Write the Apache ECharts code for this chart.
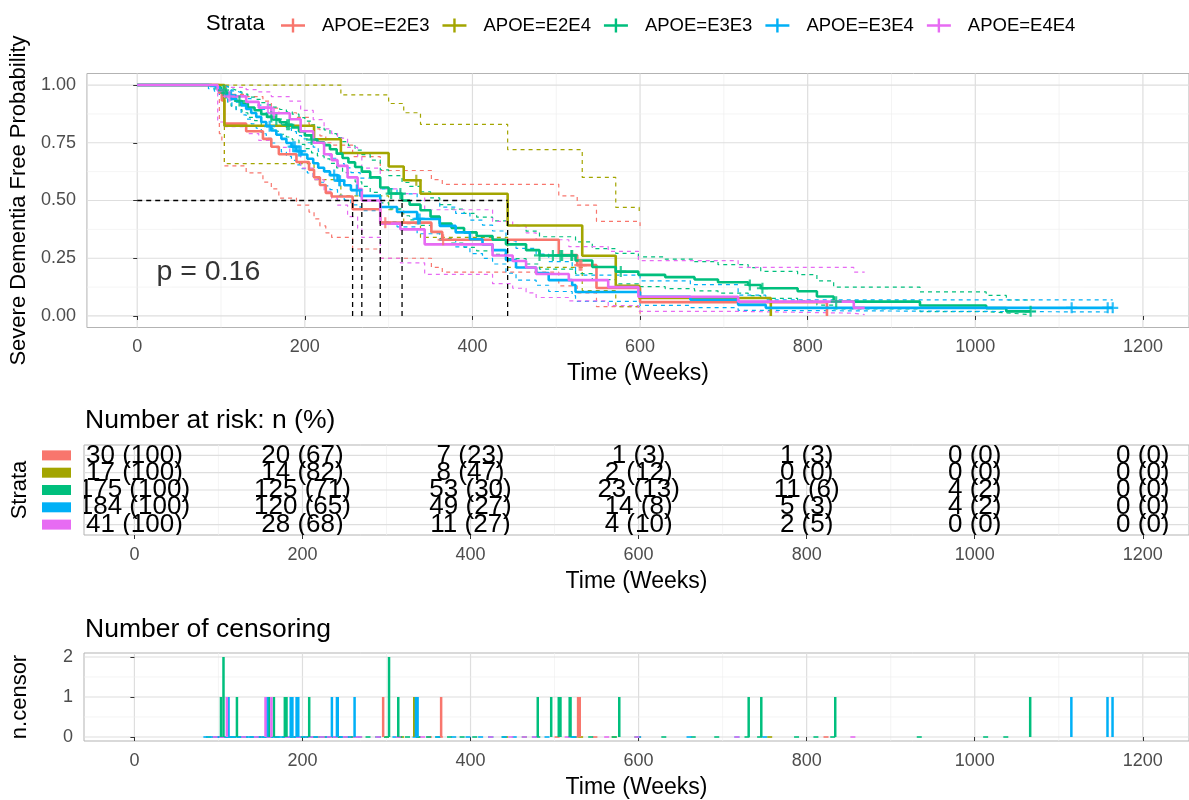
<!DOCTYPE html>
<html><head><meta charset="utf-8">
<script src="https://cdn.jsdelivr.net/npm/echarts@6/dist/echarts.min.js"></script>
<style>html,body{margin:0;padding:0;background:#fff}#c{width:1189px;height:800px}</style>
</head><body><div id="c"></div>
<script>
// ---------------- DATA ----------------
const strata = ['APOE=E2E3','APOE=E2E4','APOE=E3E3','APOE=E3E4','APOE=E4E4'];
const colors = ['#F8766D','#A3A500','#00BF7D','#00B0F6','#E76BF3'];

// Kaplan-Meier steps (time in weeks, survival, upper CI, lower CI)
const timeE2E3  = [0, 98, 101, 104, 130, 150, 160, 169, 190, 205, 211, 218, 225, 232, 257, 290, 351, 364, 503, 525, 548, 600, 823];
const survE2E3  = [1, 0.967, 0.933, 0.833, 0.800, 0.767, 0.733, 0.700, 0.667, 0.633, 0.600, 0.567, 0.533, 0.517, 0.462, 0.404, 0.364, 0.330, 0.264, 0.220, 0.121, 0.060, 0];
const upperE2E3 = [1, 1, 1, 0.96, 0.95, 0.93, 0.90, 0.88, 0.86, 0.83, 0.81, 0.78, 0.75, 0.74, 0.69, 0.63, 0.59, 0.57, 0.52, 0.48, 0.41, 0.39, null];
const lowerE2E3 = [1, 0.79, 0.76, 0.65, 0.62, 0.58, 0.55, 0.51, 0.48, 0.45, 0.42, 0.39, 0.36, 0.34, 0.29, 0.25, 0.21, 0.19, 0.13, 0.10, 0.04, 0.01, null];
const endE2E3 = 823;

const timeE2E4  = [0, 104, 211, 243, 300, 318, 338, 442, 531, 571, 599, 756];
const survE2E4  = [1, 0.824, 0.765, 0.706, 0.647, 0.588, 0.529, 0.392, 0.261, 0.131, 0.078, 0];
const upperE2E4 = [1, 1, 1, 0.957, 0.92, 0.88, 0.83, 0.72, 0.60, 0.47, 0.44, null];
const lowerE2E4 = [1, 0.66, 0.59, 0.52, 0.46, 0.40, 0.34, 0.21, 0.11, 0.04, 0.02, null];
const endE2E4 = 756;

const timeE3E3  = [0, 88, 95, 100, 104, 108, 112, 118, 125, 132, 140, 148, 155, 162, 170, 178, 185, 193, 200, 208, 215, 223, 230, 238, 245, 252, 260, 268, 278, 290, 300, 316, 325, 338, 350, 361, 375, 390, 405, 424, 440, 464, 480, 523, 543, 571, 598, 630, 665, 693, 729, 744, 788, 811, 831, 934, 1013, 1037];
const survE3E3  = [1, 0.994, 0.989, 0.977, 0.966, 0.954, 0.943, 0.931, 0.920, 0.903, 0.891, 0.874, 0.862, 0.851, 0.839, 0.828, 0.816, 0.799, 0.782, 0.764, 0.752, 0.740, 0.722, 0.703, 0.684, 0.665, 0.645, 0.625, 0.600, 0.556, 0.530, 0.500, 0.482, 0.458, 0.430, 0.400, 0.381, 0.362, 0.346, 0.330, 0.310, 0.285, 0.262, 0.240, 0.212, 0.192, 0.178, 0.168, 0.158, 0.146, 0.134, 0.120, 0.107, 0.084, 0.062, 0.045, 0.034, 0.020];
const upperE3E3 = [1, 1, 1, 0.999, 0.993, 0.986, 0.978, 0.970, 0.961, 0.948, 0.938, 0.924, 0.914, 0.904, 0.894, 0.884, 0.874, 0.859, 0.844, 0.828, 0.817, 0.806, 0.790, 0.772, 0.755, 0.737, 0.718, 0.699, 0.675, 0.633, 0.608, 0.578, 0.561, 0.538, 0.511, 0.482, 0.463, 0.444, 0.428, 0.412, 0.392, 0.367, 0.343, 0.321, 0.292, 0.271, 0.256, 0.246, 0.235, 0.222, 0.209, 0.193, 0.179, 0.152, 0.125, 0.104, 0.089, 0.069];
const lowerE3E3 = [1, 0.983, 0.973, 0.955, 0.940, 0.924, 0.909, 0.894, 0.880, 0.860, 0.846, 0.826, 0.813, 0.800, 0.787, 0.775, 0.762, 0.743, 0.725, 0.706, 0.693, 0.680, 0.661, 0.641, 0.621, 0.601, 0.581, 0.561, 0.535, 0.490, 0.464, 0.434, 0.416, 0.392, 0.364, 0.335, 0.316, 0.297, 0.282, 0.267, 0.248, 0.225, 0.203, 0.183, 0.157, 0.139, 0.127, 0.118, 0.109, 0.099, 0.088, 0.076, 0.065, 0.047, 0.031, 0.019, 0.013, 0.006];
const endE3E3 = 1066;

const timeE3E4  = [0, 85, 92, 98, 103, 108, 113, 118, 124, 130, 136, 142, 148, 154, 160, 166, 172, 178, 184, 190, 196, 203, 210, 216, 223, 230, 239, 247, 255, 266, 290, 310, 334, 361, 380, 397, 412, 424, 440, 452, 476, 491, 519, 523, 600, 660, 717, 750];
const survE3E4  = [1, 0.995, 0.989, 0.978, 0.967, 0.956, 0.940, 0.929, 0.912, 0.896, 0.879, 0.862, 0.840, 0.822, 0.803, 0.785, 0.767, 0.749, 0.733, 0.714, 0.699, 0.681, 0.661, 0.642, 0.626, 0.610, 0.586, 0.566, 0.545, 0.520, 0.472, 0.450, 0.420, 0.390, 0.362, 0.332, 0.310, 0.285, 0.242, 0.210, 0.186, 0.155, 0.134, 0.104, 0.083, 0.070, 0.048, 0.035];
const upperE3E4 = [1, 1, 1, 0.999, 0.993, 0.986, 0.975, 0.967, 0.954, 0.941, 0.927, 0.913, 0.895, 0.879, 0.862, 0.846, 0.830, 0.813, 0.798, 0.781, 0.767, 0.750, 0.731, 0.713, 0.698, 0.683, 0.660, 0.641, 0.621, 0.597, 0.550, 0.529, 0.500, 0.471, 0.444, 0.415, 0.393, 0.368, 0.325, 0.293, 0.268, 0.235, 0.212, 0.177, 0.152, 0.136, 0.090, 0.070];
const lowerE3E4 = [1, 0.984, 0.974, 0.957, 0.942, 0.927, 0.906, 0.892, 0.871, 0.852, 0.832, 0.813, 0.789, 0.769, 0.749, 0.729, 0.710, 0.691, 0.674, 0.654, 0.638, 0.619, 0.599, 0.579, 0.563, 0.547, 0.522, 0.502, 0.481, 0.456, 0.408, 0.386, 0.356, 0.327, 0.299, 0.270, 0.249, 0.225, 0.185, 0.155, 0.133, 0.106, 0.088, 0.063, 0.046, 0.036, 0.024, 0.017];
const endE3E4 = 1164;

const timeE4E4  = [0, 96, 104, 130, 145, 160, 182, 195, 210, 223, 232, 239, 251, 263, 268, 290, 314, 343, 424, 448, 464, 476, 515, 562, 598, 717, 855];
const survE4E4  = [1, 0.976, 0.951, 0.927, 0.902, 0.878, 0.852, 0.800, 0.750, 0.700, 0.675, 0.650, 0.600, 0.550, 0.500, 0.400, 0.375, 0.310, 0.262, 0.238, 0.210, 0.182, 0.155, 0.125, 0.083, 0.062, 0.035];
const upperE4E4 = [1, 1, 0.99, 0.98, 0.97, 0.95, 0.93, 0.89, 0.85, 0.81, 0.79, 0.77, 0.73, 0.69, 0.64, 0.55, 0.53, 0.46, 0.41, 0.39, 0.36, 0.33, 0.30, 0.28, 0.24, 0.21, 0.19];
const lowerE4E4 = [1, 0.84, 0.82, 0.79, 0.76, 0.73, 0.70, 0.64, 0.59, 0.54, 0.51, 0.48, 0.43, 0.38, 0.34, 0.25, 0.23, 0.18, 0.14, 0.12, 0.10, 0.08, 0.065, 0.045, 0.02, 0.012, 0.006];
const endE4E4 = 868;

// Censoring times and counts
const censorTimeE2E3  = [296, 365, 528, 530];
const censorCountE2E3 = [1, 1, 1, 1];
const censorTimeE2E4  = [333];
const censorCountE2E4 = [1];
const censorTimeE3E3  = [103, 106, 122, 160, 166, 179, 181, 208, 303, 314, 480, 496, 505, 507, 518, 519, 577, 731, 746, 834, 1066];
const censorCountE3E3 = [1, 2, 1, 1, 1, 1, 1, 1, 2, 1, 1, 1, 1, 1, 1, 1, 1, 1, 1, 1, 1];
const censorTimeE3E4  = [112, 158, 186, 188, 193, 195, 235, 241, 242, 262, 335, 337, 1115, 1158, 1164];
const censorCountE3E4 = [1, 1, 1, 1, 1, 1, 1, 1, 1, 1, 1, 1, 1, 1, 1];
const censorTimeE4E4  = [110, 156, 163];
const censorCountE4E4 = [1, 1, 1];

// Median survival times
const medianTimes = [257, 442, 316, 290, 268];

// Number at risk table
const riskTimes = [0, 200, 400, 600, 800, 1000, 1200];
const riskE2E3 = [30, 20, 7, 1, 1, 0, 0];   const pctE2E3 = [100, 67, 23, 3, 3, 0, 0];
const riskE2E4 = [17, 14, 8, 2, 0, 0, 0];   const pctE2E4 = [100, 82, 47, 12, 0, 0, 0];
const riskE3E3 = [175, 125, 53, 23, 11, 4, 0]; const pctE3E3 = [100, 71, 30, 13, 6, 2, 0];
const riskE3E4 = [184, 120, 49, 14, 5, 4, 0];  const pctE3E4 = [100, 65, 27, 8, 3, 2, 0];
const riskE4E4 = [41, 28, 11, 4, 2, 0, 0];  const pctE4E4 = [100, 68, 27, 10, 5, 0, 0];

const pValueText = 'p = 0.16';

// Tick labels / grid breaks
const xTicks = [0, 200, 400, 600, 800, 1000, 1200];
const xMinor = [100, 300, 500, 700, 900, 1100];
const survTicks = [0, 0.25, 0.5, 0.75, 1];
const survMinor = [0.125, 0.375, 0.625, 0.875];
const riskRows = [1, 2, 3, 4, 5];
const censorTicks = [0, 1, 2];
const censorMinor = [0.5, 1.5];

// ---------------- BUILD ----------------
const FONT = "'Liberation Sans', Arial, sans-serif";
const groups = [
  {t: timeE2E3, s: survE2E3, u: upperE2E3, l: lowerE2E3, end: endE2E3, ct: censorTimeE2E3, cc: censorCountE2E3, n: riskE2E3, p: pctE2E3},
  {t: timeE2E4, s: survE2E4, u: upperE2E4, l: lowerE2E4, end: endE2E4, ct: censorTimeE2E4, cc: censorCountE2E4, n: riskE2E4, p: pctE2E4},
  {t: timeE3E3, s: survE3E3, u: upperE3E3, l: lowerE3E3, end: endE3E3, ct: censorTimeE3E3, cc: censorCountE3E3, n: riskE3E3, p: pctE3E3},
  {t: timeE3E4, s: survE3E4, u: upperE3E4, l: lowerE3E4, end: endE3E4, ct: censorTimeE3E4, cc: censorCountE3E4, n: riskE3E4, p: pctE3E4},
  {t: timeE4E4, s: survE4E4, u: upperE4E4, l: lowerE4E4, end: endE4E4, ct: censorTimeE4E4, cc: censorCountE4E4, n: riskE4E4, p: pctE4E4}
];

function survSteps(T, V, end) {
  const out = [];
  for (let i = 0; i < T.length; i++) {
    if (i > 0) out.push([T[i], V[i - 1]]);
    out.push([T[i], V[i]]);
  }
  if (end > T[T.length - 1]) out.push([end, V[V.length - 1]]);
  return out;
}
function ciSteps(T, V, end) {
  const out = [];
  for (let i = 0; i < T.length; i++) {
    if (V[i] == null) break;
    if (i > 0) out.push([T[i], V[i - 1]]);
    out.push([T[i], V[i]]);
    if (i === T.length - 1 && end > T[i]) out.push([end, V[i]]);
  }
  return out;
}
function survAt(T, S, t) {
  let v = S[0];
  for (let i = 0; i < T.length; i++) { if (T[i] <= t) v = S[i]; }
  return v;
}

const PLUS = 'path://M4,0 H6 V4 H10 V6 H6 V10 H4 V6 H0 V4 H4 Z';
const KEY = 'path://M0,5.8 H10.8 V0 H13.2 V5.8 H24 V8.2 H13.2 V14 H10.8 V8.2 H0 Z';
const series = [];

// grid lines (custom series so that they stay inside the panel)
function gridLineSeries(gi, yRef, xMaj, xMin, yMaj, yMin) {
  const data = [];
  xMaj.forEach(v => data.push([v, yRef, 0, 1]));
  xMin.forEach(v => data.push([v, yRef, 0, 0]));
  yMaj.forEach(v => data.push([0, v, 1, 1]));
  yMin.forEach(v => data.push([0, v, 1, 0]));
  return {
    type: 'custom', xAxisIndex: gi, yAxisIndex: gi, silent: true, z: 0,
    data: data,
    renderItem: function (params, api) {
      const cs = params.coordSys;
      const p = api.coord([api.value(0), api.value(1)]);
      const major = api.value(3) === 1;
      const style = {stroke: major ? '#DEDEDE' : '#EFEFEF', lineWidth: major ? 1.2 : 0.7};
      if (api.value(2) === 0) return {type: 'line', shape: {x1: p[0], y1: cs.y, x2: p[0], y2: cs.y + cs.height}, style: style};
      return {type: 'line', shape: {x1: cs.x, y1: p[1], x2: cs.x + cs.width, y2: p[1]}, style: style};
    }
  };
}
series.push(gridLineSeries(0, 0, xTicks, xMinor, survTicks, survMinor));
series.push(gridLineSeries(1, 1, xTicks, xMinor, riskRows, []));
series.push(gridLineSeries(2, 0, xTicks, xMinor, censorTicks, censorMinor));

groups.forEach((g, i) => {
  const c = colors[i];
  series.push({
    name: strata[i] + ' upper', type: 'line', xAxisIndex: 0, yAxisIndex: 0, data: ciSteps(g.t, g.u, g.end),
    showSymbol: false, silent: true, z: 2, lineStyle: {color: c, width: 1.2, type: [4, 4]}
  });
  series.push({
    name: strata[i] + ' lower', type: 'line', xAxisIndex: 0, yAxisIndex: 0, data: ciSteps(g.t, g.l, g.end),
    showSymbol: false, silent: true, z: 2, lineStyle: {color: c, width: 1.2, type: [4, 4]}
  });
});
groups.forEach((g, i) => {
  const c = colors[i];
  series.push({
    name: strata[i], type: 'line', xAxisIndex: 0, yAxisIndex: 0, data: survSteps(g.t, g.s, g.end),
    showSymbol: false, symbol: KEY, z: 3,
    itemStyle: {color: c}, lineStyle: {color: c, width: 2.6}
  });
  series.push({
    name: strata[i] + ' censor', type: 'scatter', xAxisIndex: 0, yAxisIndex: 0, z: 4,
    data: g.ct.map(t => [t, survAt(g.t, g.s, t)]),
    symbol: PLUS, symbolSize: 11, itemStyle: {color: c}
  });
});

// median lines
const maxMedian = Math.max.apply(null, medianTimes);
series.push({
  type: 'line', xAxisIndex: 0, yAxisIndex: 0, z: 5, silent: true, showSymbol: false,
  data: [[0, 0.5], [maxMedian, 0.5]], lineStyle: {color: '#000', width: 1.3, type: [5, 4]}
});
medianTimes.forEach(m => series.push({
  type: 'line', xAxisIndex: 0, yAxisIndex: 0, z: 5, silent: true, showSymbol: false,
  data: [[m, 0], [m, 0.5]], lineStyle: {color: '#000', width: 1.3, type: [5, 4]}
}));

// p-value
series.push({
  type: 'scatter', xAxisIndex: 0, yAxisIndex: 0, symbolSize: 0, silent: true, z: 6,
  data: [[23, 0.19]],
  label: {show: true, position: 'right', distance: 0, formatter: pValueText, color: '#000', fontSize: 28.5, fontFamily: FONT}
});

// risk table
const riskData = [];
groups.forEach((g, i) => riskTimes.forEach((t, k) => riskData.push([t, i + 1, g.n[k], g.p[k]])));
series.push({
  type: 'custom', xAxisIndex: 1, yAxisIndex: 1, clip: true, silent: true, z: 3,
  data: riskData,
  renderItem: function (params, api) {
    const p = api.coord([api.value(0), api.value(1)]);
    return {
      type: 'text', x: p[0], y: p[1],
      style: {text: api.value(2) + ' (' + api.value(3) + ')', fill: '#000', fontSize: 26, fontFamily: FONT, align: 'center', verticalAlign: 'middle'}
    };
  }
});

// censoring plot
groups.forEach((g, i) => {
  series.push({
    type: 'bar', xAxisIndex: 2, yAxisIndex: 2, z: 3, silent: true,
    data: g.ct.map((t, k) => [t, g.cc[k]]), barWidth: 2.5, barGap: '-100%',
    itemStyle: {color: colors[i]}
  });
  series.push({
    type: 'scatter', xAxisIndex: 2, yAxisIndex: 2, z: 2, silent: true,
    data: g.t.filter(t => t > 0).map(t => [t, 0]), symbol: 'rect', symbolSize: [5, 2],
    itemStyle: {color: colors[i]}
  });
});

const labelStyle = {color: '#4D4D4D', fontSize: 18, fontFamily: FONT};
const nameStyle = {color: '#000', fontSize: 23, fontFamily: FONT};
const yNameStyle = {color: '#000', fontSize: 22, fontFamily: FONT};
function xAxis(gi) {
  return {
    gridIndex: gi, type: 'value', min: -60, max: 1255,
    axisLine: {show: false},
    axisTick: {show: true, customValues: xTicks, length: 4, lineStyle: {color: '#333', width: 1}},
    axisLabel: Object.assign({customValues: xTicks, margin: 11, formatter: v => String(v)}, labelStyle),
    splitLine: {show: false}, minorSplitLine: {show: false},
    name: 'Time (Weeks)', nameLocation: 'middle', nameGap: 35, nameTextStyle: nameStyle
  };
}
const rich = {};
colors.forEach((c, i) => rich['s' + (i + 1)] = {backgroundColor: c, width: 29, height: 10, fontSize: 1});

const option = {
  animation: false,
  backgroundColor: '#fff',
  textStyle: {fontFamily: FONT},
  title: [
    {text: 'Number at risk: n (%)', left: 85, top: 407, padding: 0, textStyle: {fontSize: 26.5, fontWeight: 'normal', color: '#000', fontFamily: FONT}},
    {text: 'Number of censoring', left: 85, top: 616, padding: 0, textStyle: {fontSize: 26.5, fontWeight: 'normal', color: '#000', fontFamily: FONT}}
  ],
  graphic: [
    {type: 'text', left: 206, top: 13, style: {text: 'Strata', fill: '#000', fontSize: 22, fontFamily: FONT}}
  ],
  legend: {
    left: 281, top: 16, padding: 0, itemWidth: 24, itemHeight: 14, itemGap: 13,
    data: strata.map(s => ({name: s, icon: KEY})),
    textStyle: {color: '#000', fontSize: 18.5, fontFamily: FONT, padding: [0, 0, 0, 12]}
  },
  grid: [
    {left: 84, top: 73.5, width: 1110, height: 254, show: true, borderColor: '#B3B3B3', borderWidth: 1},
    {left: 84, top: 445, width: 1110, height: 90, show: true, borderColor: '#B3B3B3', borderWidth: 1},
    {left: 84, top: 653, width: 1110, height: 88, show: true, borderColor: '#B3B3B3', borderWidth: 1}
  ],
  xAxis: [xAxis(0), xAxis(1), xAxis(2)],
  yAxis: [
    {
      gridIndex: 0, type: 'value', min: -0.05, max: 1.05,
      axisLine: {show: false},
      axisTick: {show: true, customValues: survTicks, length: 4, lineStyle: {color: '#333'}},
      axisLabel: Object.assign({customValues: survTicks, margin: 11, formatter: v => v.toFixed(2)}, labelStyle),
      splitLine: {show: false},
      name: 'Severe Dementia Free Probability', nameLocation: 'middle', nameGap: 53, nameTextStyle: yNameStyle
    },
    {
      gridIndex: 1, type: 'value', min: 0.4, max: 5.6, inverse: true,
      axisLine: {show: false}, axisTick: {show: false},
      axisLabel: {customValues: riskRows, margin: 13, formatter: v => '{s' + v + '| }', rich: rich},
      splitLine: {show: false},
      name: 'Strata', nameLocation: 'middle', nameGap: 53, nameTextStyle: yNameStyle
    },
    {
      gridIndex: 2, type: 'value', min: -0.1, max: 2.1,
      axisLine: {show: false},
      axisTick: {show: true, customValues: censorTicks, length: 4, lineStyle: {color: '#333'}},
      axisLabel: Object.assign({customValues: censorTicks, margin: 11}, labelStyle),
      splitLine: {show: false},
      name: 'n.censor', nameLocation: 'middle', nameGap: 53, nameTextStyle: yNameStyle
    }
  ],
  series: series
};

const chart = echarts.init(document.getElementById('c'));
chart.setOption(option);
</script>
</body></html>
